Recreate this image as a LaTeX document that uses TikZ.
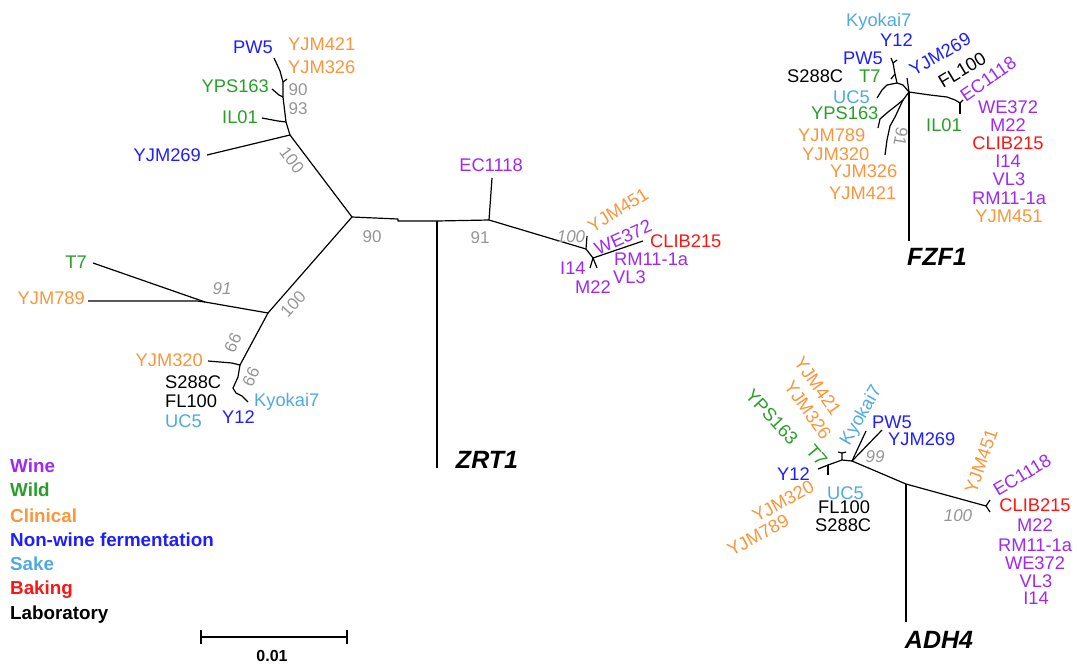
\documentclass[tikz,border=0pt]{standalone}
\usepackage{fontspec}
\setmainfont{Liberation Sans}
\definecolor{cwine}{RGB}{160,40,245}
\definecolor{cwild}{RGB}{40,160,40}
\definecolor{cclin}{RGB}{250,150,60}
\definecolor{cnonw}{RGB}{30,30,255}
\definecolor{csake}{RGB}{80,170,225}
\definecolor{cbake}{RGB}{255,20,20}
\definecolor{cgray}{RGB}{150,150,150}
\newcommand\fLab{\fontsize{18.3}{18.3}\selectfont}
\newcommand\fBoot{\fontsize{17}{17}\selectfont}
\newcommand\fGene{\fontsize{25}{25}\selectfont\bfseries\itshape}
\newcommand\fLeg{\fontsize{18.8}{18.8}\selectfont\bfseries}
\tikzset{
  br/.style={line width=1.2pt, black, line join=round},
  lab/.style={font=\fLab, inner sep=0pt, text height=13pt, text depth=0pt},
  wine/.style={lab, text=cwine},
  wild/.style={lab, text=cwild},
  clin/.style={lab, text=cclin},
  nonw/.style={lab, text=cnonw},
  sake/.style={lab, text=csake},
  bake/.style={lab, text=cbake},
  labo/.style={lab, text=black},
  boot/.style={font=\fBoot, text=cgray, inner sep=0pt, text height=12pt, text depth=0pt},
  booti/.style={boot, font=\fBoot\itshape},
  gene/.style={font=\fGene, inner sep=0pt},
  leg/.style={font=\fLeg, anchor=west, inner sep=0pt, text height=13.4pt, text depth=0pt}
}
\begin{document}
\begin{tikzpicture}[x=1pt,y=-1pt]
\fill[white] (0,0) rectangle (1078,667);
\useasboundingbox (0,0) rectangle (1078,667);

%================ ZRT1 =================
\coordinate (zA) at (352,217);
\coordinate (zA1) at (398,219);
\coordinate (zA2) at (398,221);
\coordinate (zR) at (437,221);
\coordinate (zRb) at (437,468);
\coordinate (zE) at (489,220);
\coordinate (zEt) at (492,178);
\coordinate (zN) at (586,249);
\coordinate (zYt) at (587,236);
\coordinate (zN2) at (593,258);
\coordinate (zCt) at (643,241);
\coordinate (zIt) at (590,268);
\coordinate (zMt) at (597,268);
\draw[br] (zA) -- (zA1) -- (zA2) -- (zR) -- (zE) -- (zEt);
\draw[br] (zR) -- (zRb);
\draw[br] (zE) -- (zN) -- (zYt);
\draw[br] (zN) -- (zN2) -- (zCt);
\draw[br] (zN2) -- (zIt);
\draw[br] (zN2) -- (zMt);
% upper left
\coordinate (zB) at (290,135);
\coordinate (zB1) at (286,122);
\coordinate (zB2) at (283,97);
\coordinate (zB3) at (283,82);
\coordinate (zJt) at (207,155);
\coordinate (zILa) at (278,121);
\coordinate (zILt) at (262,118);
\coordinate (zYPa) at (279,95);
\coordinate (zYPt) at (272,89);
\coordinate (zPWa) at (280,71);
\coordinate (zPWt) at (274,58);
\coordinate (zYJt) at (287,79);
\draw[br] (zA) -- (zB) -- (zJt);
\draw[br] (zB) -- (zB1) -- (zB2) -- (zB3);
\draw[br] (zB1) -- (zILa) -- (zILt);
\draw[br] (zB2) -- (zYPa) -- (zYPt);
\draw[br] (zB3) -- (zPWa) -- (zPWt);
\draw[br] (zB3) -- (zYJt);
% lower left
\coordinate (zC) at (268,313);
\coordinate (zCn) at (205,302);
\coordinate (zTt) at (93,263);
\coordinate (zC7) at (197,301);
\coordinate (zC8) at (88,301);
\coordinate (zD) at (240,365);
\coordinate (zD1) at (232,363);
\coordinate (zD2) at (208,361);
\coordinate (zD3) at (238,377);
\coordinate (zEE) at (233,388);
\coordinate (zE1) at (236,393);
\coordinate (zE2) at (242,396);
\coordinate (zKt) at (248,402);
\draw[br] (zA) -- (zC) -- (zCn) -- (zTt);
\draw[br] (zCn) -- (zC7) -- (zC8);
\draw[br] (zC) -- (zD) -- (zD1) -- (zD2);
\draw[br] (zD) -- (zD3) -- (zEE) -- (zE1) -- (zE2) -- (zKt);

\node[nonw] (zPW5) at (253,47) {PW5};
\node[clin, anchor=west] (zY421) at (288,44) {YJM421};
\node[clin, anchor=west] (zY326) at (288,67) {YJM326};
\node[wild, anchor=east] (zYPS) at (269,86) {YPS163};
\node[wild, anchor=east] (zIL) at (258,117) {IL01};
\node[nonw, anchor=east] (zJ269) at (201,155) {YJM269};
\node[wild, anchor=east] (zT7) at (87,262) {T7};
\node[clin, anchor=east] (zY789) at (85,298) {YJM789};
\node[clin, anchor=east] (zY320) at (203,360) {YJM320};
\node[labo, anchor=west] (zS288) at (165,382) {S288C};
\node[labo, anchor=west] (zFL) at (165,401) {FL100};
\node[sake, anchor=west] (zUC5) at (165,421) {UC5};
\node[nonw, anchor=west] (zY12) at (222,417) {Y12};
\node[sake, anchor=west] (zKyo) at (254,400) {Kyokai7};
\node[wine] (zEC) at (491,165) {EC1118};
\node[clin, rotate=32] (zY451) at (618,210) {YJM451};
\node[wine, rotate=24] (zWE) at (623,237) {WE372};
\node[bake, anchor=west] (zCLIB) at (650,241) {CLIB215};
\node[wine, anchor=west] (zRM) at (614,259) {RM11-1a};
\node[wine, anchor=west] (zVL) at (613,277) {VL3};
\node[wine, anchor=west] (zI14) at (560,268) {I14};
\node[wine, anchor=west] (zM22) at (575,287) {M22};

\node[boot] (zb1) at (298,89) {90};
\node[boot] (zb2) at (298,108) {93};
\node[boot, rotate=-53] (zb3) at (292,160) {100};
\node[boot] (zb4) at (372,236) {90};
\node[boot] (zb5) at (480,237) {91};
\node[booti] (zb6) at (571,236) {100};
\node[booti] (zb7) at (222,288) {91};
\node[boot, rotate=48] (zb8) at (293,304) {100};
\node[boot, rotate=-115] (zb9) at (233,343) {99};
\node[boot, rotate=-115] (zb10) at (251,377) {99};
\node[gene] (zG) at (487,460) {ZRT1};

%================ FZF1 =================
\coordinate (fR) at (909,92);
\coordinate (fRb) at (909,241);
\coordinate (fr1) at (930,95);
\coordinate (fr2) at (947,97);
\coordinate (fr3) at (955,100);
\coordinate (fRn) at (960,103);
\coordinate (fr4) at (963,100);
\coordinate (fr5) at (960,114);
\coordinate (fUp) at (907,78);
\coordinate (fl0) at (903,85);
\coordinate (fL) at (897,83);
\coordinate (fl1) at (895,74);
\coordinate (fl2) at (893,63);
\coordinate (fl3) at (891,79);
\coordinate (fl4) at (891,58);
\coordinate (fl5) at (897,60);
\coordinate (fl6) at (887,85);
\coordinate (fl7) at (882,90);
\coordinate (fl8) at (877,98);
\coordinate (fD) at (903,100);
\coordinate (fd1) at (897,105);
\coordinate (fd2) at (888,112);
\coordinate (fd3) at (880,119);
\coordinate (fd4) at (878,128);
\coordinate (fd5) at (895,117);
\coordinate (fd6) at (890,126);
\coordinate (fd7) at (887,140);
\coordinate (fd8) at (885,155);
\draw[br] (fR) -- (fRb);
\draw[br] (fR) -- (fr1) -- (fr2) -- (fr3) -- (fRn) -- (fr4);
\draw[br] (fRn) -- (fr5);
\draw[br] (fR) -- (fUp);
\draw[br] (fR) -- (fl0) -- (fL) -- (fl1) -- (fl2) -- (fl4);
\draw[br] (fl2) -- (fl5);
\draw[br] (fl1) -- (fl3);
\draw[br] (fL) -- (fl6) -- (fl7) -- (fl8);
\draw[br] (fR) -- (fD) -- (fd1) -- (fd2) -- (fd3) -- (fd4);
\draw[br] (fD) -- (fd5) -- (fd6) -- (fd7) -- (fd8);

\node[sake, anchor=west] (fKyo) at (846,20) {Kyokai7};
\node[nonw, anchor=west] (fY12) at (880,40) {Y12};
\node[nonw, anchor=west] (fPW5) at (843,58) {PW5};
\node[labo, anchor=west] (fS288) at (787,76) {S288C};
\node[wild, anchor=west] (fT7) at (859,76) {T7};
\node[sake, anchor=west] (fUC5) at (833,97) {UC5};
\node[wild, anchor=west] (fYPS) at (811,113) {YPS163};
\node[clin, anchor=west] (fY789) at (798,135) {YJM789};
\node[clin, anchor=west] (fY320) at (802,154) {YJM320};
\node[clin, anchor=west] (fY326) at (830,171) {YJM326};
\node[clin, anchor=west] (fY421) at (829,193) {YJM421};
\node[wild, anchor=west] (fIL) at (926,125) {IL01};
\node[nonw, rotate=30] (fJ269) at (940,54) {YJM269};
\node[labo, rotate=31] (fFL) at (962,70) {FL100};
\node[wine, rotate=35] (fEC) at (988,79) {EC1118};
\node[wine] (fWE) at (1008,107) {WE372};
\node[wine] (fM22) at (1008,125) {M22};
\node[bake] (fCLIB) at (1008,143) {CLIB215};
\node[wine] (fI14) at (1008,161) {I14};
\node[wine] (fVL) at (1009,179) {VL3};
\node[wine] (fRM) at (1009,198) {RM11-1a};
\node[clin] (fY451) at (1009,216) {YJM451};
\node[boot, rotate=-100] (fb1) at (901,137) {91};
\node[gene] (fG) at (937,257) {FZF1};

%================ ADH4 =================
\coordinate (hN) at (852,461);
\coordinate (hR) at (906,484);
\coordinate (hRb) at (906,622);
\coordinate (hN2) at (986,506);
\coordinate (ht1) at (990,500);
\coordinate (ht2) at (990,512);
\coordinate (hu1) at (866,431);
\coordinate (hu2) at (882,430);
\coordinate (hL) at (842,460);
\coordinate (hL1) at (842,453);
\coordinate (hL2) at (838,452);
\coordinate (hL3) at (846,452);
\coordinate (hM) at (828,465);
\coordinate (hM1) at (818,469);
\coordinate (hM2) at (828,475);
\draw[br] (hN) -- (hR) -- (hN2) -- (ht1);
\draw[br] (hN2) -- (ht2);
\draw[br] (hR) -- (hRb);
\draw[br] (hN) -- (hu1);
\draw[br] (hN) -- (hu2);
\draw[br] (hN) -- (hL) -- (hL1) -- (hL2);
\draw[br] (hL1) -- (hL3);
\draw[br] (hL) -- (hM) -- (hM1);
\draw[br] (hM) -- (hM2);

\node[wild, rotate=-47] (hYPS) at (772,417) {YPS163};
\node[clin, rotate=-55] (hY421) at (818,386) {YJM421};
\node[clin, rotate=-55] (hY326) at (808,410) {YJM326};
\node[wild, rotate=-50] (hT7) at (817,455) {T7};
\node[sake, rotate=60] (hKyo) at (860,415) {Kyokai7};
\node[nonw, anchor=west] (hPW5) at (872,422) {PW5};
\node[nonw, anchor=west] (hJ269) at (888,439) {YJM269};
\node[nonw, anchor=west] (hY12) at (777,474) {Y12};
\node[sake, anchor=west] (hUC5) at (827,493) {UC5};
\node[labo, anchor=west] (hFL) at (818,507) {FL100};
\node[labo, anchor=west] (hS288) at (815,525) {S288C};
\node[clin, rotate=29] (hY320) at (783,501) {YJM320};
\node[clin, rotate=29] (hY789) at (758,535) {YJM789};
\node[clin, rotate=71] (hY451) at (981,461) {YJM451};
\node[wine, rotate=31] (hEC) at (1022,475) {EC1118};
\node[bake] (hCLIB) at (1035,505) {CLIB215};
\node[wine] (hM22) at (1035,525) {M22};
\node[wine] (hRM) at (1035,545) {RM11-1a};
\node[wine] (hWE) at (1035,563) {WE372};
\node[wine] (hVL) at (1036,581) {VL3};
\node[wine] (hI14) at (1036,598) {I14};
\node[booti] (hb1) at (875,456) {99};
\node[booti] (hb2) at (958,515) {100};
\node[gene] (hG) at (939,640) {ADH4};

%================ legend & scale =================
\node[leg, text=cwine] (lg1) at (10,466) {Wine};
\node[leg, text=cwild] (lg2) at (10,490) {Wild};
\node[leg, text=cclin] (lg3) at (10,516) {Clinical};
\node[leg, text=cnonw] (lg4) at (10,540) {Non-wine fermentation};
\node[leg, text=csake] (lg5) at (10,564) {Sake};
\node[leg, text=cbake] (lg6) at (10,588) {Baking};
\node[leg, text=black] (lg7) at (10,613) {Laboratory};

\coordinate (s1) at (201,637);
\coordinate (s2) at (347,637);
\coordinate (s1a) at (201,630);
\coordinate (s1b) at (201,644);
\coordinate (s2a) at (347,630);
\coordinate (s2b) at (347,644);
\draw[line width=1.6pt] (s1) -- (s2);
\draw[line width=1.6pt] (s1a) -- (s1b);
\draw[line width=1.6pt] (s2a) -- (s2b);
\node[font=\fontsize{16}{16}\selectfont\bfseries, inner sep=0pt] (sl) at (272,656) {0.01};
\end{tikzpicture}
\end{document}
